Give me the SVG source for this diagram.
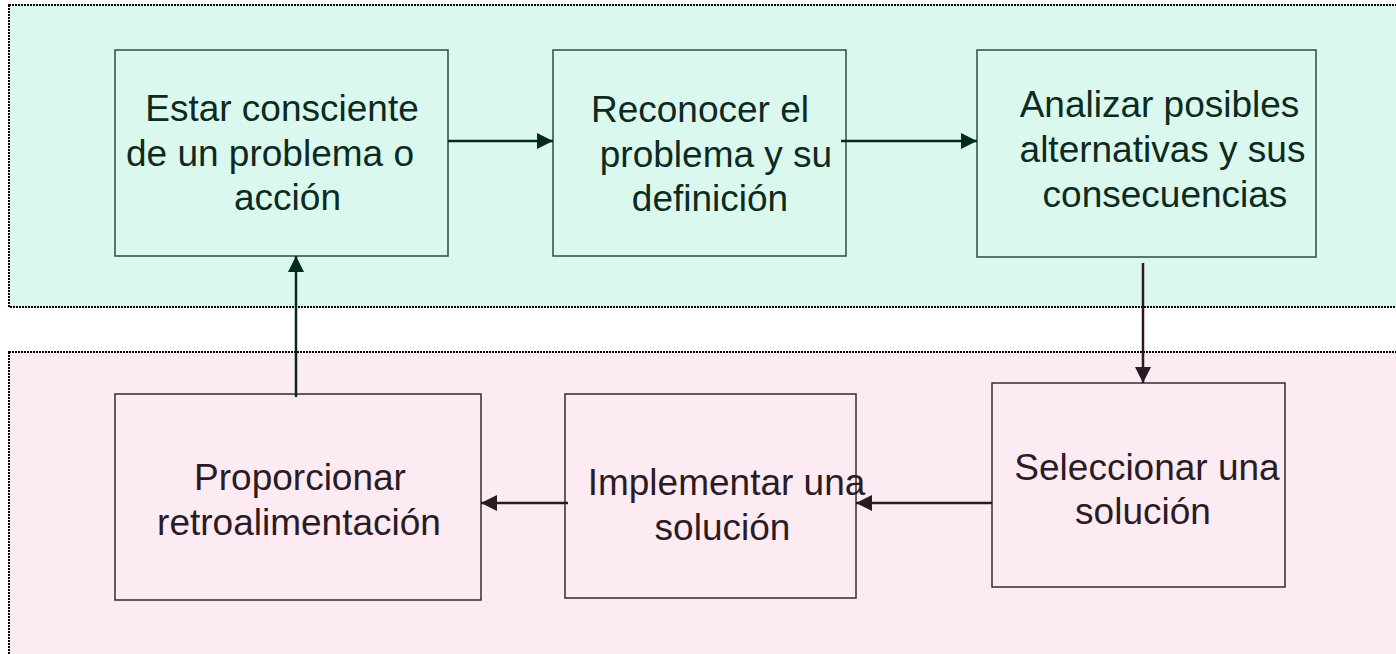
<svg xmlns="http://www.w3.org/2000/svg" width="1396" height="654" viewBox="0 0 1396 654">
<style>
.panel{stroke:#000;stroke-width:2;stroke-dasharray:2,1}
.top{fill:#dbf8ef}
.bot{fill:#fdebf3}
.bt{fill:#dbf8ef;stroke:#2f4a41;stroke-width:1.5}
.bb{fill:#fdebf3;stroke:#3a2832;stroke-width:1.5}
text{font-family:"Liberation Sans",Arial,sans-serif;font-size:37px;text-anchor:middle}
.tt{fill:#0c2a20}
.tb{fill:#2a1b24}
.ct{stroke:#022a1e;stroke-width:2.5;fill:none}
.cb{stroke:#2a1822;stroke-width:2.5;fill:none}
</style>
<defs>
<marker id="ahT" markerWidth="16" markerHeight="16" refX="16" refY="8" orient="auto" markerUnits="userSpaceOnUse"><path d="M0,0 L16,8 L0,16 Z" fill="#022a1e"/></marker>
<marker id="ahB" markerWidth="16" markerHeight="16" refX="16" refY="8" orient="auto" markerUnits="userSpaceOnUse"><path d="M0,0 L16,8 L0,16 Z" fill="#2a1822"/></marker>
</defs>
<rect width="1396" height="654" fill="#ffffff"/>
<rect class="panel top" x="9" y="5" width="1400" height="302"/>
<rect class="panel bot" x="9" y="352" width="1400" height="320"/>

<g id="n1"><rect class="bt" x="115" y="50" width="333" height="206"/>
<text class="tt"><tspan x="282" y="121">Estar consciente</tspan><tspan x="270" y="165.5">de un problema o</tspan><tspan x="287.5" y="210">acción</tspan></text></g>
<g id="n2"><rect class="bt" x="553" y="50" width="293" height="206"/>
<text class="tt"><tspan x="700" y="122">Reconocer el</tspan><tspan x="716" y="166.5">problema y su</tspan><tspan x="710" y="211">definición</tspan></text></g>
<g id="n3"><rect class="bt" x="977" y="50" width="339" height="207"/>
<text class="tt"><tspan x="1159.5" y="117">Analizar posibles</tspan><tspan x="1162.5" y="162">alternativas y sus</tspan><tspan x="1165" y="207">consecuencias</tspan></text></g>
<g id="n4"><rect class="bb" x="992" y="383" width="293" height="204"/>
<text class="tb"><tspan x="1147" y="480">Seleccionar una</tspan><tspan x="1143" y="524">solución</tspan></text></g>
<g id="n5"><rect class="bb" x="565" y="394" width="291" height="204"/>
<text class="tb"><tspan x="726.5" y="495">Implementar una</tspan><tspan x="722.5" y="540">solución</tspan></text></g>
<g id="n6"><rect class="bb" x="115" y="394" width="366" height="206"/>
<text class="tb"><tspan x="300" y="490">Proporcionar</tspan><tspan x="299" y="535">retroalimentación</tspan></text></g>

<g id="connectors">
<line class="ct" x1="448" y1="141" x2="553" y2="141" marker-end="url(#ahT)"/>
<line class="ct" x1="841" y1="141" x2="977" y2="141" marker-end="url(#ahT)"/>
<line class="cb" x1="1143" y1="263" x2="1143" y2="383" marker-end="url(#ahB)"/>
<line class="cb" x1="992" y1="503" x2="856" y2="503" marker-end="url(#ahB)"/>
<line class="cb" x1="568" y1="503" x2="481" y2="503" marker-end="url(#ahB)"/>
<line class="ct" x1="296" y1="397" x2="296" y2="256" marker-end="url(#ahT)"/>
</g>
</svg>
